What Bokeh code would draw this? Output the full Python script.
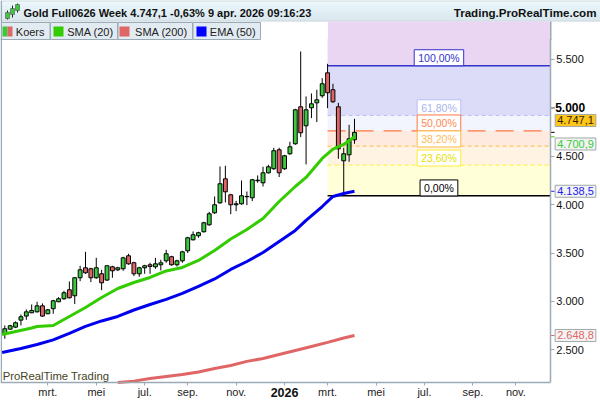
from bokeh.plotting import figure
from bokeh.models import ColumnDataSource, Label, FixedTicker, Range1d, LinearAxis
from bokeh.embed import file_html
from bokeh.resources import INLINE

# ---- data ----
opens = [2666,2714,2735,2807,2849,2883,2893,2955,2873,2925,2997,3028,3121,3059,3245,3348,3338,3245,3286,3221,3358,3327,3338,3472,3400,3286,3348,3379,3358,3379,3420,3462,3379,3420,3524,3637,3679,3720,3792,3916,4019,4267,4102,3999,4009,4082,4071,4247,4226,4329,4371,4567,4371,4526,4629,5011,4815,5001,5052,5125,5362,5187,5011,4453,4515,4670]
highs = [2752,2759,2794,2866,2918,2969,2997,2980,2924,3017,3045,3110,3207,3252,3369,3513,3348,3451,3327,3369,3369,3358,3462,3493,3410,3358,3379,3400,3451,3431,3534,3472,3431,3524,3668,3723,3720,3823,3926,4085,4395,4402,4112,4040,4250,4136,4267,4302,4391,4412,4588,4588,4515,4650,4990,5583,5118,5149,5187,5307,5455,5249,5052,4588,4825,4887]
lows = [2615,2708,2725,2752,2811,2880,2887,2842,2869,2873,2993,3017,3031,2973,3210,3286,3200,3234,3117,3214,3245,3314,3317,3379,3262,3255,3286,3286,3338,3320,3400,3369,3362,3400,3500,3630,3658,3713,3782,3906,4009,4023,3902,3933,3999,3995,4037,4226,4188,4322,4360,4285,4360,4515,4619,4698,4416,4894,4853,5104,4997,5052,4474,4095,4443,4629]
closes = [2718,2749,2780,2842,2893,2907,2955,2849,2914,3007,3028,3090,3038,3245,3327,3296,3245,3348,3193,3369,3317,3348,3451,3389,3286,3348,3369,3362,3389,3400,3493,3379,3420,3513,3658,3689,3710,3813,3906,3999,4216,4133,3999,4009,4092,4085,4257,4253,4329,4391,4557,4329,4505,4598,4980,4743,4980,5042,5083,5249,5156,5063,4577,4526,4681,4747]

sma20_weeks = [-0.5,5,6,9,12,15,18,21,24,27,30,33,36,39,42,45,48,51,54,56,59,61,63,65]
sma20_values = [2659,2726,2742,2752,2845,2938,3041,3134,3196,3248,3315,3351,3424,3527,3646,3744,3858,4033,4188,4281,4477,4575,4622,4701]
ema50_weeks = [-0.5,3,6,9,12,15,18,21,24,27,30,33,36,39,42,45,48,51,54,56,59,61,63,65]
ema50_values = [2473,2515,2556,2603,2670,2742,2799,2845,2912,2969,3021,3083,3155,3233,3331,3413,3506,3620,3734,3837,3981,4085,4116,4139]
sma200_weeks = [21,24,27,30,33,36,39,42,45,48,51,54,57,60,63,65]
sma200_values = [2163,2177,2205,2225,2246,2272,2308,2339,2381,2411,2453,2494,2535,2577,2623,2649]

fib_levels = [5435,4922,4763,4605,4409,4092]
fib_names = ["100,00%","61,80%","50,00%","38,20%","23,60%","0,00%"]
y_ticks = [2500,3000,3500,4000,4500,5000,5500]
y_tick_labels = ["2.500","3.000","3.500","4.000","4.500","","5.500"]
month_weeks = [8,17,26,34,43,52,60,69,78,87,95]
month_names = ["mrt.","mei","jul.","sep.","nov.","","mrt.","mei","jul.","sep.","nov."]
legend_names = ["Koers","SMA (20)","SMA (200)","EMA (50)"]
last_values = [4747.1,4700.9,4138.5,2648.8]
last_labels = ["4.747,1","4.700,9","4.138,5","2.648,8"]

# ---- colours ----
UP, DOWN = "#3CC83C", "#E06666"
CHROME = "#9AABB5"
FONT = "Liberation Sans"
# full panel range; the axes sit at AX_R and AX_B inside it
FX0, FX1, FY0, FY1 = -0.8, 110.73, 1977, 5716.66
AX_R, AX_B = 101.4, 2163
FIB_L = 60.0
LBL_X = 102.3   # left of the value badges and right-hand labels

# ---- header strip ----
h = figure(width=600, height=40, x_range=Range1d(0, 600), y_range=Range1d(40, 0),
           output_backend="svg", toolbar_location=None,
           min_border_left=0, min_border_right=0, min_border_top=0, min_border_bottom=0,
           x_axis_type=None, y_axis_type=None, outline_line_color=None)
h.grid.visible = False
shades = ["#A9BAC4","#E8F6FA","#E6F4F9","#E4F3F8","#E2F1F7","#E0F0F6","#DEEEF5","#DCEDF4","#DBECF3","#D9EBF2",
          "#D8E9F1","#D7E8F0","#D6E7EF","#D5E6EE","#D4E5EE","#D3E4ED","#D2E3EC","#D1E2EB","#D0E1EA","#CFE0E9","#C3D0D8"]
h.quad(left=0, right=600, top=list(range(len(shades))), bottom=[v+1 for v in range(len(shades))],
       fill_color=shades, line_color=None)
h.quad(left=327.5, right=550, top=21, bottom=44, fill_color="#EAD5F3", line_color=None)
h.quad(left=549.5, right=551, top=21, bottom=44, fill_color=CHROME, line_color=None)
h.quad(left=[1,50,117.5,192.5], right=[49.5,117,192,260], top=22, bottom=39,
       fill_color="#E2EBF2", line_color=CHROME, line_width=1)
h.quad(left=0, right=1.5, top=0, bottom=44, fill_color=CHROME, line_color=None)
h.quad(left=[2,7], right=[7,12], top=26, bottom=36, fill_color=[UP,DOWN], line_color=None)
h.quad(left=[53,119,196], right=[63,129,206], top=26, bottom=36,
       fill_color=["#33CC00","#E06666","#0000FF"], line_color=None)
# header icon
h.segment([7,12,17],[10,5,3],[7,12,17],[19,17,12], color="#222222", line_width=1)
h.quad(left=[5,10,15], right=[9,14,19], top=[12,8,4], bottom=[18,14,10], fill_color=UP, line_color="#555555", line_width=0.6)
def htext(x, y, t, **kw):
    h.add_layout(Label(x=x, y=y, text=t, text_font=FONT, text_baseline="middle", **kw))
htext(23, 12, "Gold Full0626 Week 4.747,1 -0,63% 9 apr. 2026 09:16:23",
      text_font_size="11px", text_font_style="bold", text_color="#111111")
htext(596, 12, "Trading.ProRealTime.com", text_align="right",
      text_font_size="11.6px", text_font_style="bold", text_color="#111111")
for x, t in zip([15.3, 66.7, 134.6, 209.3], legend_names):
    htext(x, 31, t, text_font_size="11px", text_color="#222222")

# ---- main panel ----
p = figure(width=600, height=362, x_range=Range1d(FX0, FX1), y_range=Range1d(FY0, FY1),
           output_backend="svg", toolbar_location=None, x_axis_type=None, y_axis_type=None,
           min_border_left=0, min_border_right=0, min_border_top=0, min_border_bottom=0,
           margin=(-2, 0, 0, 0), background_fill_color=None, border_fill_color=None,
           outline_line_color=None)
p.grid.visible = False

# Fibonacci zones
bands_top = [FY1 + 100] + fib_levels[:-1]
p.quad(left=FIB_L, right=AX_R, top=bands_top, bottom=fib_levels, line_color=None,
       fill_color=["#EAD5F3","#DCDCF8","#F2F4FE","#FFEADF","#FFF3E3","#FFFFD8"])
line_cols = ["#3333CC","#B8C0F4","#FF7744","#FFBB44","#FFEE33","#000000"]
line_dash = ["solid",[4,3],[18,10],[4,3],[4,3],"solid"]
line_w = [1.3,1,1.3,1,1,1.3]
for lv, c, d, w in zip(fib_levels, line_cols, line_dash, line_w):
    p.line([FIB_L, AX_R], [lv, lv], line_color=c, line_dash=d, line_width=w)

# candles
src = ColumnDataSource(dict(x=list(range(len(opens))), o=opens, h=highs, l=lows, c=closes,
                            top=[max(a,b) for a,b in zip(opens,closes)],
                            bot=[min(a,b) for a,b in zip(opens,closes)],
                            col=[UP if b>=a else DOWN for a,b in zip(opens,closes)]))
p.segment("x","h","x","l",source=src,line_color="#000000",line_width=1)
p.vbar(x="x",top="top",bottom="bot",width=0.72,source=src,fill_color="col",line_color="#000000",line_width=1)

# moving averages
p.line(sma20_weeks, sma20_values, line_color="#33CC00", line_width=3, line_join="round")
p.line(sma200_weeks, sma200_values, line_color="#E06666", line_width=3, line_join="round")
p.line(ema50_weeks, ema50_values, line_color="#0000EE", line_width=3, line_join="round")

# fib tags
tag_x = [80.7,80.7,80.7,80.7,80.7,80.7]
tag_levels = [5518,5001,4844,4679,4482,4173]
tag_text = ["#3333CC","#A9B4EE","#FF8855","#FFBB55","#E8E000","#000000"]
for name, lv, c, tc, tx in zip(fib_names, tag_levels, line_cols, tag_text, tag_x):
    p.add_layout(Label(x=tx, y=lv, text=name, text_align="center", text_baseline="middle",
                       text_font=FONT, text_font_size="10.5px", text_color=tc,
                       background_fill_color="#FFFFFF", border_line_color=c, border_line_width=1,
                       padding=(4, 2)))

# axes
ay = LinearAxis(ticker=FixedTicker(ticks=y_ticks), fixed_location=AX_R, bounds=(AX_B, FY1),
                major_label_overrides=dict(zip(y_ticks, y_tick_labels)),
                axis_line_color=CHROME, axis_line_width=1.5, major_tick_line_color=CHROME,
                major_tick_in=0, major_tick_out=4, minor_tick_line_color=None,
                major_label_text_font=FONT, major_label_text_font_size="11px",
                major_label_text_color="#111111", major_label_standoff=2)
p.add_layout(ay, "right")
ax = LinearAxis(ticker=FixedTicker(ticks=month_weeks), fixed_location=AX_B, bounds=(FX0, AX_R),
                major_label_overrides=dict(zip(month_weeks, month_names)),
                axis_line_color=CHROME, axis_line_width=1.5, major_tick_line_color=CHROME,
                major_tick_in=0, major_tick_out=3, minor_tick_line_color=None,
                major_label_text_font=FONT, major_label_text_font_size="11px",
                major_label_text_color="#222222", major_label_standoff=1)
p.add_layout(ax, "below")

p.quad(left=FX0, right=FX0+0.28, top=FY1 + 100, bottom=AX_B, fill_color=CHROME, line_color=None)

# bold axis labels
p.add_layout(Label(x=LBL_X, y=5000, text="5.000", text_baseline="middle",
                   text_font=FONT, text_font_size="12px", text_font_style="bold", text_color="#000000"))
p.add_layout(Label(x=month_weeks[5], y=2063, text="2026", text_align="center", text_baseline="middle",
                   text_font=FONT, text_font_size="12.5px", text_font_style="bold", text_color="#111111"))
p.add_layout(Label(x=-0.4, y=2228, text="ProRealTime Trading", text_baseline="middle",
                   text_font=FONT, text_font_size="11.3px", text_color="#444422"))

# last-value ticks and badges
badge_y = [4870,4627,4138.5,2648.8]
tick_col = ["#000000","#33CC00","#2222EE","#E06666"]
badge_fg = ["#332200","#33CC33","#2222EE","#E06666"]
badge_bg = ["#FFC61A","#F4F4F4","#F4F4F4","#F4F4F4"]
p.segment(x0=[AX_R]*4, y0=last_values, x1=[AX_R+0.8]*4, y1=last_values, line_color=tick_col, line_width=1)
p.segment(x0=[AX_R], y0=[5000], x1=[AX_R+0.8], y1=[5000], line_color="#000000", line_width=1)
for yv, t, fg, bg in zip(badge_y, last_labels, badge_fg, badge_bg):
    p.add_layout(Label(x=LBL_X, y=yv, text=t, text_baseline="middle",
                       text_font=FONT, text_font_size="11px", text_color=fg,
                       background_fill_color=bg, border_line_color="#A0A8A8", border_line_width=1,
                       padding=2))

open("out.html", "w").write(file_html((h, p), INLINE))
